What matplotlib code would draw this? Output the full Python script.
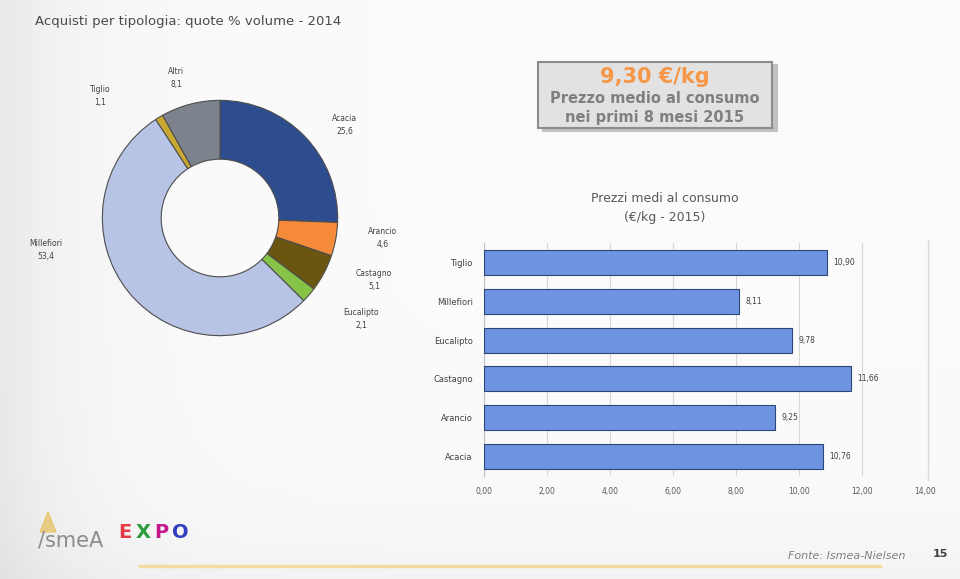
import numpy as np
import matplotlib.pyplot as plt
from matplotlib.patches import Rectangle

# donut: purchase shares by honey type, 2014 (% volume)
pie_labels = ['Acacia', 'Arancio', 'Castagno', 'Eucalipto', 'Millefiori', 'Tiglio', 'Altri']
pie_values = [25.6, 4.6, 5.1, 2.1, 53.4, 1.1, 8.1]
pie_colors = ['#2E4D8E', '#F58B3A', '#6A5610', '#86C447', '#B7C4E6', '#C9A832', '#7D838D']

# bars: average consumer price 2015 (EUR/kg)
bar_labels = ['Acacia', 'Arancio', 'Castagno', 'Eucalipto', 'Millefiori', 'Tiglio']
bar_values = [10.76, 9.25, 11.66, 9.78, 8.11, 10.90]
x_ticks = [0, 2, 4, 6, 8, 10, 12, 14]

W, H = 960, 579
fig = plt.figure(figsize=(W / 100, H / 100), dpi=100)

def fx(px):
    return px / W

def fy(py):
    return 1 - py / H

# slide background, light gradient
bg = fig.add_axes([0, 0, 1, 1])
gx = np.linspace(0, 1, 200)
gy = np.linspace(0, 1, 120)
gr = 0.985 - 0.07 * np.exp(-gx * 12)[None, :] - 0.03 * np.exp(-(1 - gy) * 10)[:, None]
bg.imshow(np.dstack([gr, gr, gr]), extent=[0, 1, 0, 1], aspect='auto', origin='upper')
bg.set_xlim(0, 1)
bg.set_ylim(0, 1)
bg.axis('off')

fig.text(fx(35), fy(22), 'Acquisti per tipologia: quote % volume - 2014',
         fontsize=9.5, color='#4a4a4a', va='center', ha='left')

# donut
cx, cy, size = 220, 218, 400
pax = fig.add_axes([fx(cx - size / 2), fy(cy + size / 2), size / W, size / H])
wedges, _ = pax.pie(pie_values, colors=pie_colors, startangle=90, counterclock=False,
                    radius=1.0, wedgeprops=dict(width=0.5, edgecolor='#4d4d4d', linewidth=0.8))
pax.set_xlim(-1.7, 1.7)
pax.set_ylim(-1.7, 1.7)
pax.set_aspect('equal')
pax.axis('off')

label_pos = {'Acacia': (1.06, 0.79), 'Arancio': (1.38, -0.17), 'Castagno': (1.31, -0.53),
             'Eucalipto': (1.20, -0.86), 'Millefiori': (-1.48, -0.27), 'Tiglio': (-1.02, 1.04),
             'Altri': (-0.37, 1.19)}
for name, val in zip(pie_labels, pie_values):
    lx, ly = label_pos[name]
    pax.text(lx, ly, f'{name}\n{val:.1f}'.replace('.', ','), ha='center', va='center',
             fontsize=5.5, color='#404040', linespacing=1.6)

# highlighted price box
shadow = Rectangle((fx(542), fy(132)), fx(236), 68 / H, transform=fig.transFigure,
                   facecolor='#9a9a9a', edgecolor='none', alpha=0.6, zorder=2)
box = Rectangle((fx(538), fy(128)), fx(234), 66 / H, transform=fig.transFigure,
                facecolor='#e2e2e2', edgecolor='#8c8c8c', linewidth=1.5, zorder=3)
fig.add_artist(shadow)
fig.add_artist(box)
fig.text(fx(655), fy(77), '9,30 €/kg', fontsize=15, color='#F79646', fontweight='bold',
         ha='center', va='center', zorder=4)
fig.text(fx(655), fy(99), 'Prezzo medio al consumo', fontsize=10.5, color='#7f7f7f',
         fontweight='bold', ha='center', va='center', zorder=4)
fig.text(fx(655), fy(117), 'nei primi 8 mesi 2015', fontsize=10.5, color='#7f7f7f',
         fontweight='bold', ha='center', va='center', zorder=4)

# bar chart
fig.text(fx(665), fy(199), 'Prezzi medi al consumo', fontsize=9, color='#595959',
         ha='center', va='center')
fig.text(fx(665), fy(217), '(€/kg - 2015)', fontsize=9, color='#595959',
         ha='center', va='center')

bax = fig.add_axes([fx(484), fy(476), fx(441), 233 / H])
bax.set_facecolor('none')
ypos = np.arange(len(bar_labels))
bax.barh(ypos, bar_values, height=0.64, color='#6F93E3', edgecolor='#2D4677', linewidth=0.8,
         zorder=3)
for y, v in zip(ypos, bar_values):
    bax.text(v + 0.2, y, f'{v:.2f}'.replace('.', ','), va='center', ha='left',
             fontsize=5.5, color='#404040')
bax.set_xlim(0, 14)
bax.set_ylim(-0.5, len(bar_labels) - 0.5)
bax.set_xticks(x_ticks)
bax.set_xticklabels([f'{t:.2f}'.replace('.', ',') for t in x_ticks], fontsize=5.5,
                    color='#595959')
bax.set_yticks(ypos)
bax.set_yticklabels(bar_labels, fontsize=6, color='#404040')
bax.tick_params(length=0, pad=8)
bax.grid(axis='x', color='#d6d6d6', linewidth=0.8, zorder=0)
for s in ['top', 'right', 'bottom']:
    bax.spines[s].set_visible(False)
bax.spines['left'].set_color('#bfbfbf')
fig.add_artist(plt.Line2D([fx(928), fx(928)], [fy(240), fy(480)], color='#d9d9d9',
                          linewidth=1))

# footer
fig.add_artist(plt.Line2D([fx(140), fx(880)], [fy(566), fy(566)], color='#F3D68E',
                          linewidth=2.5, alpha=0.8))
fig.text(fx(905), fy(556), 'Fonte: Ismea-Nielsen', fontsize=8, color='#7f7f7f',
         style='italic', ha='right', va='center')
fig.text(fx(940), fy(554), '15', fontsize=8, color='#404040', fontweight='bold',
         ha='center', va='center')

# logos (approximate)
fig.text(fx(38), fy(540), '/smeA', fontsize=15, color='#8c8c8c', ha='left', va='center')
fig.add_artist(plt.Polygon([[fx(40), fy(532)], [fx(48), fy(512)], [fx(56), fy(532)]],
                           closed=True, transform=fig.transFigure, color='#E8C46A', alpha=0.8))
expo_colors = ['#E63946', '#2A9D3F', '#C2188B', '#2F3FBF']
for i, (ch, c) in enumerate(zip('EXPO', expo_colors)):
    fig.text(fx(118 + i * 18), fy(533), ch, fontsize=14, color=c, fontweight='bold',
             ha='left', va='center')

fig.savefig('out.png', dpi=100)
